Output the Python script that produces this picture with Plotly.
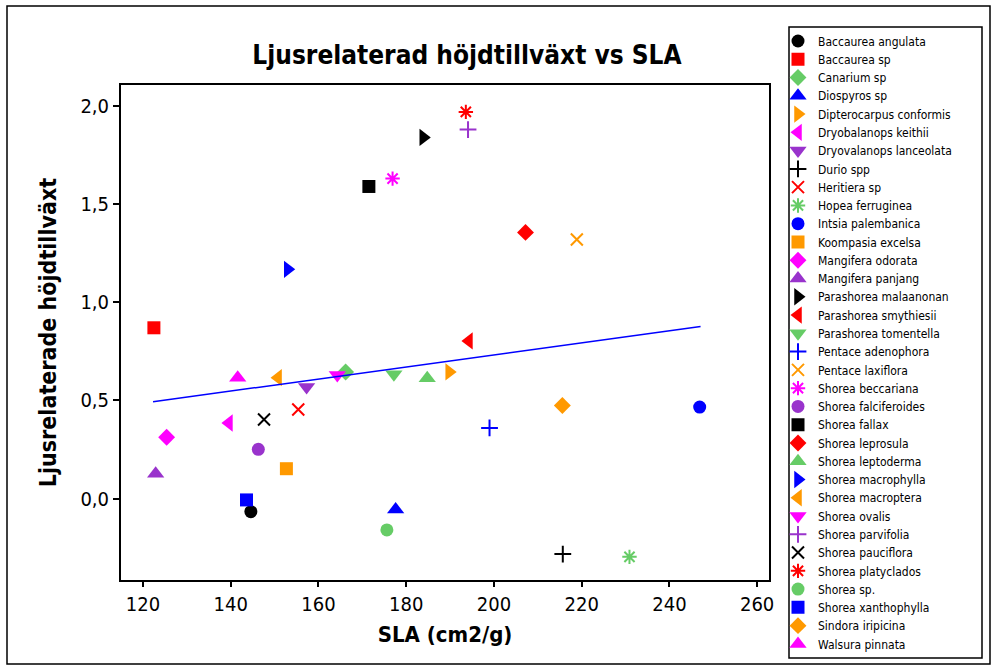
import plotly.graph_objects as go

species = ["Baccaurea angulata", "Baccaurea sp", "Canarium sp", "Diospyros sp",
           "Dipterocarpus conformis", "Dryobalanops keithii", "Dryovalanops lanceolata",
           "Durio spp", "Heritiera sp", "Hopea ferruginea", "Intsia palembanica",
           "Koompasia excelsa", "Mangifera odorata", "Mangifera panjang",
           "Parashorea malaanonan", "Parashorea smythiesii", "Parashorea tomentella",
           "Pentace adenophora", "Pentace laxiflora", "Shorea beccariana",
           "Shorea falciferoides", "Shorea fallax", "Shorea leprosula", "Shorea leptoderma",
           "Shorea macrophylla", "Shorea macroptera", "Shorea ovalis", "Shorea parvifolia",
           "Shorea pauciflora", "Shorea platyclados", "Shorea sp.", "Shorea xanthophylla",
           "Sindora iripicina", "Walsura pinnata"]

sla = [144.6, 122.5, 166.2, 177.6, 189.8, 139.6, 157.3, 215.7, 155.4, 230.9, 246.9,
       152.7, 125.4, 122.9, 183.9, 194.3, 177.2, 199.0, 218.9, 176.9, 146.3, 171.5,
       207.2, 184.8, 153.0, 150.8, 164.3, 194.1, 147.6, 193.6, 175.6, 143.6, 215.6, 141.6]

growth = [-0.067, 0.87, 0.645, -0.056, 0.645, 0.385, 0.568, -0.283, 0.454, -0.297, 0.466,
          0.152, 0.312, 0.126, 1.84, 0.803, 0.633, 0.36, 1.32, 1.63, 0.251, 1.59,
          1.356, 0.613, 1.168, 0.616, 0.63, 1.88, 0.403, 1.97, -0.16, -0.007, 0.474, 0.616]

fit_x = [122.3, 247.1]
fit_y = [0.493, 0.877]

x_ticks = [120, 140, 160, 180, 200, 220, 240, 260]
y_ticks = [0.0, 0.5, 1.0, 1.5, 2.0]

BLACK, RED, GREEN, BLUE = "#000000", "#FF0000", "#66CC66", "#0000FF"
ORANGE, MAGENTA, PURPLE = "#FF9900", "#FF00FF", "#9933CC"

color_cycle = [BLACK, RED, GREEN, BLUE, ORANGE, MAGENTA, PURPLE]
symbol_cycle = ["circle", "square", "diamond", "triangle-up", "triangle-right",
                "triangle-left", "triangle-down", "cross-thin-open", "x-thin-open",
                "asterisk-open"]
colors = [color_cycle[i % 7] for i in range(len(species))]
symbols = [symbol_cycle[i % 10] for i in range(len(species))]

FONT = "DejaVu Sans Condensed, DejaVu Sans, sans-serif"

L, R, T, B = 121, 225, 85, 88
W, H = 994, 668
pw, ph = W - L - R, H - T - B


def px_x(p):
    return (p - L) / pw


def px_y(p):
    return (H - B - p) / ph


LEG_TOP, LEG_STEP = 41, 18.27

fig = go.Figure()
legends = {}
for i, (name, x, y, c, s) in enumerate(zip(species, sla, growth, colors, symbols)):
    size = 13
    if s.startswith("triangle"):
        size = 15
    elif s.endswith("open"):
        size = 12
    key = "legend" if i == 0 else f"legend{i + 1}"
    fig.add_trace(go.Scatter(
        x=[x], y=[y], mode="markers", name=name, legend=key,
        marker=dict(symbol=s, color=c, size=size,
                    line=dict(color=c, width=2 if s.endswith("open") else 0)),
    ))
    legends[key] = dict(x=px_x(778), xanchor="left", y=px_y(LEG_TOP + i * LEG_STEP),
                        yanchor="middle", bgcolor="rgba(0,0,0,0)", borderwidth=0,
                        font=dict(size=12, family=FONT, color="black"))

fig.add_trace(go.Scatter(x=fit_x, y=fit_y, mode="lines", showlegend=False,
                         line=dict(color=BLUE, width=1.5)))

fig.update_layout(
    width=W, height=H,
    margin=dict(l=L, r=R, t=T, b=B, autoexpand=False),
    paper_bgcolor="white", plot_bgcolor="white",
    separators=",.",
    font=dict(family=FONT, color="black"),
    title=dict(text="<b>Ljusrelaterad höjdtillväxt vs SLA</b>", x=467 / W, xanchor="center",
               y=1 - 55 / H, yanchor="middle", font=dict(size=26, family=FONT)),
    xaxis=dict(range=[115, 262.7], tickvals=x_ticks, ticks="outside", ticklen=5, tickwidth=1.5,
               tickcolor="black", showgrid=False, zeroline=False, showline=True, mirror=True,
               linecolor="black", linewidth=2, tickfont=dict(size=20), automargin=False,
               title=dict(text="<b>SLA (cm2/g)</b>", font=dict(size=22), standoff=12)),
    yaxis=dict(range=[-0.415, 2.107], tickvals=y_ticks, tickformat=".1f", ticks="outside",
               ticklen=6, tickwidth=1.5, tickcolor="black", showgrid=False, zeroline=False,
               showline=True, mirror=True, linecolor="black", linewidth=2, tickfont=dict(size=20),
               automargin=False,
               title=dict(text="<b>Ljusrelaterade höjdtillväxt</b>", font=dict(size=23),
                          standoff=17)),
    showlegend=True,
    shapes=[
        dict(type="rect", xref="paper", yref="paper", x0=px_x(7), x1=px_x(990),
             y0=px_y(664), y1=px_y(6), line=dict(color="black", width=1.5), layer="below"),
        dict(type="rect", xref="paper", yref="paper", x0=px_x(789), x1=px_x(982),
             y0=px_y(658), y1=px_y(27), line=dict(color="black", width=1.5), layer="below"),
    ],
)
fig.update_layout(**legends)

fig.write_html("out.html", config={"displayModeBar": False},
               post_script="document.body.style.margin='0px';")
